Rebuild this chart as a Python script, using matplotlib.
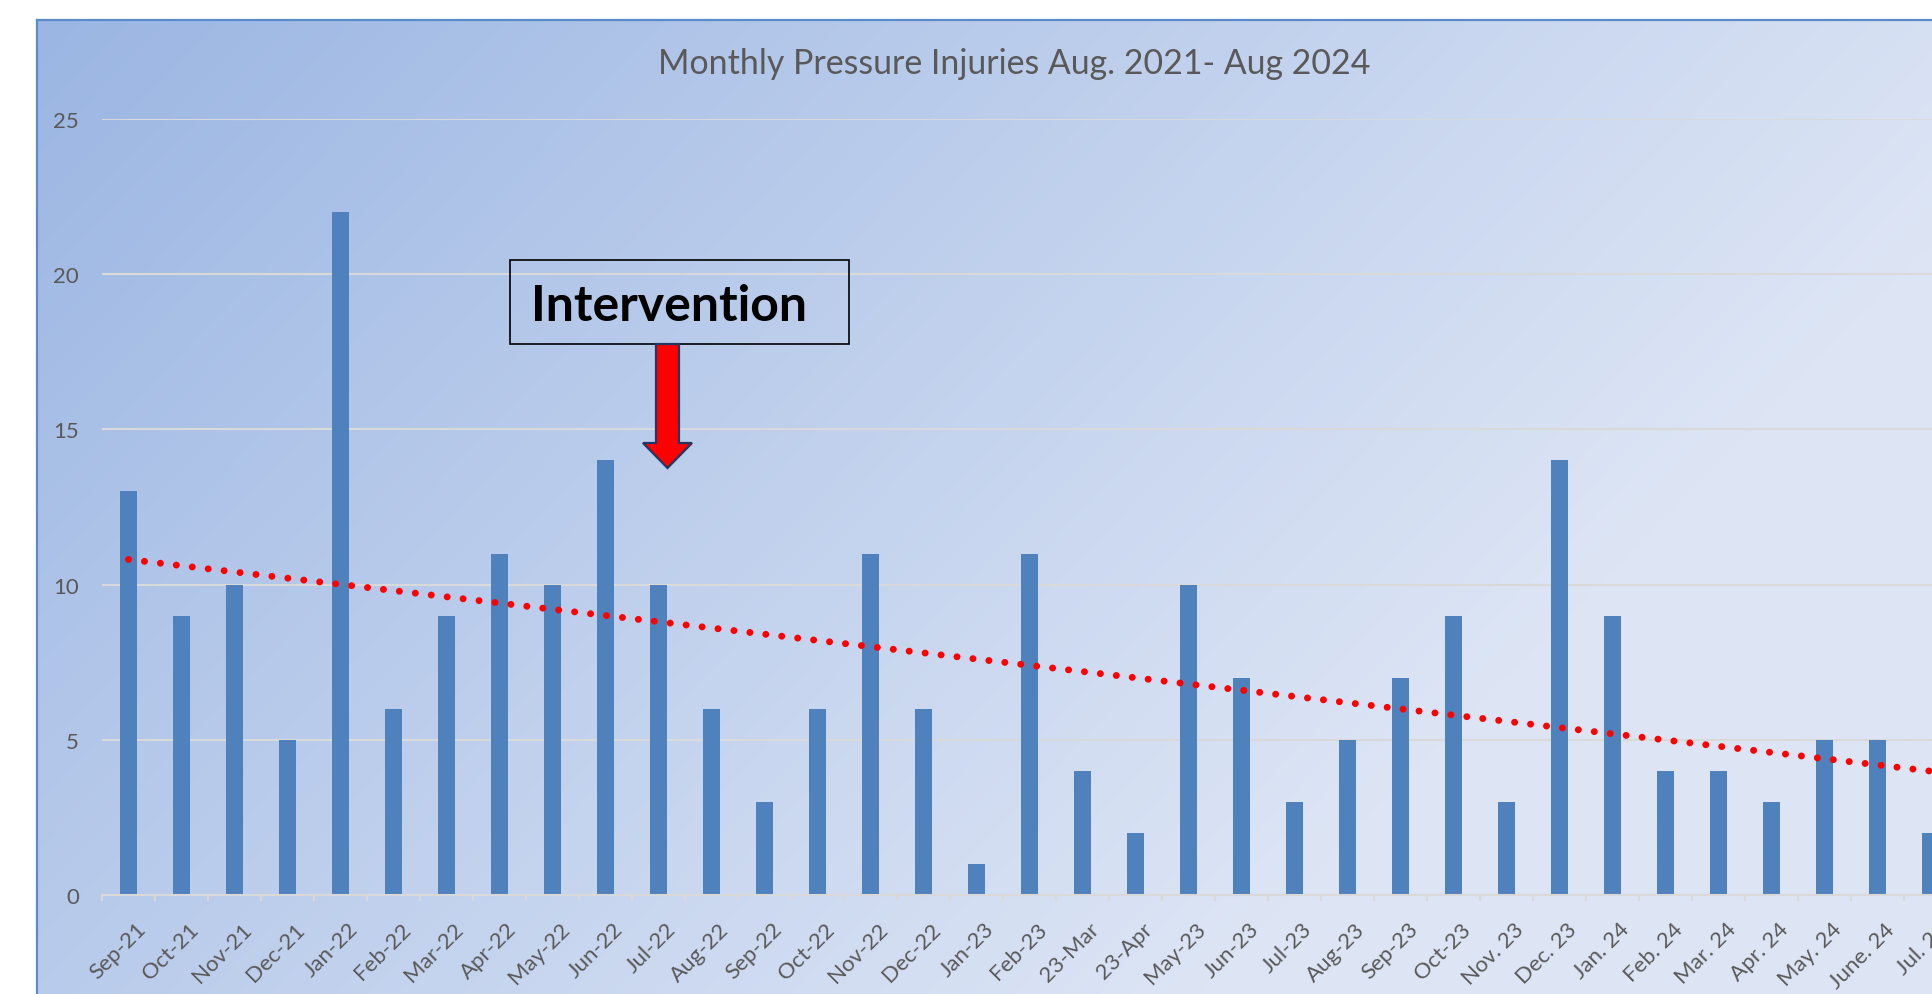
import numpy as np
import matplotlib
matplotlib.use("Agg")
import matplotlib.pyplot as plt
from matplotlib.patches import Rectangle, Polygon
import matplotlib.transforms as mtransforms

# ---------------- data ----------------
months = ["Sep-21", "Oct-21", "Nov-21", "Dec-21", "Jan-22", "Feb-22", "Mar-22",
          "Apr-22", "May-22", "Jun-22", "Jul-22", "Aug-22", "Sep-22", "Oct-22",
          "Nov-22", "Dec-22", "Jan-23", "Feb-23", "23-Mar", "23-Apr", "May-23",
          "Jun-23", "Jul-23", "Aug-23", "Sep-23", "Oct-23", "Nov. 23", "Dec. 23",
          "Jan. 24", "Feb. 24", "Mar. 24", "Apr. 24", "May. 24", "June. 24", "Jul. 24"]
injuries = [13, 9, 10, 5, 22, 6, 9, 11, 10, 14, 10, 6, 3, 6, 11, 6, 1, 11, 4, 2,
            10, 7, 3, 5, 7, 9, 3, 14, 9, 4, 4, 3, 5, 5, 2]
y_ticks = [0, 5, 10, 15, 20, 25]
title = "Monthly Pressure Injuries Aug. 2021- Aug 2024"
annotation = "Intervention"

# ---------------- style ----------------
plt.rcParams["font.family"] = ["Lato", "DejaVu Sans"]
W, H = 1933, 995
fig = plt.figure(figsize=(W / 100, H / 100), dpi=100)
fig.patch.set_facecolor("white")

TEXT = "#595959"
GRID = "#D9D9D9"
BAR = "#4F81BD"

# background (chart area gradient)
bg = fig.add_axes([0, 0, 1, 1], zorder=0)
bg.set_xlim(0, W)
bg.set_ylim(H, 0)
bg.axis("off")
x0c, y0c = 37.5, 20.5
gx = np.linspace(0, 1, 400)
gy = np.linspace(0, 1, 200)
GX, GY = np.meshgrid(gx, gy)
t = np.clip(GX * 0.9 + GY * 0.45, 0, 1)
c0 = np.array([155, 182, 227]) / 255
c1 = np.array([221, 229, 245]) / 255
img = c0[None, None, :] * (1 - t[..., None]) + c1[None, None, :] * t[..., None]
bg.imshow(img, extent=(x0c, W, H, y0c), aspect="auto", interpolation="bilinear")
bg.plot([x0c, x0c], [y0c, H], color="#5B8BC9", lw=1.6)
bg.plot([x0c, W], [y0c, y0c], color="#5B8BC9", lw=1.6)

# main axes
n = len(months)
left_px, right_px = 102, 102 + 35 * 53
top_px, bottom_px = 120, 896
ax = fig.add_axes([left_px / W, (H - bottom_px) / H,
                   (right_px - left_px) / W, (bottom_px - top_px) / H], zorder=1)
ax.patch.set_alpha(0)
pos = np.arange(n)
ax.bar(pos, injuries, width=0.31, color=BAR, zorder=2)

# linear trendline
xs = np.arange(1, n + 1)
coef = np.polyfit(xs, injuries, 1)
trend = np.polyval(coef, xs)
ax.plot(pos, trend, color="#FF0000", lw=5, linestyle=(0, (0.01, 2.3)),
        dash_capstyle="round", zorder=3)

ax.set_xlim(-0.5, n - 0.5)
ax.set_ylim(0, 25)
ax.set_yticks(y_ticks)
ax.yaxis.grid(True, color=GRID, lw=1.5)
ax.set_axisbelow(True)
for s in ["top", "right", "left"]:
    ax.spines[s].set_visible(False)
ax.spines["bottom"].set_color(GRID)
ax.spines["bottom"].set_linewidth(1.5)
ax.tick_params(axis="y", length=0, pad=16.5, labelsize=16, labelcolor=TEXT)

ax.set_xticks(pos)
ax.set_xticklabels(months)
ax.set_xticks(np.arange(-0.5, n, 1), minor=True)
ax.tick_params(axis="x", which="major", length=0, pad=17, labelsize=16, labelcolor=TEXT)
ax.tick_params(axis="x", which="minor", length=4, width=1.5, color=GRID)
off = mtransforms.ScaledTranslation(7 / 100, 0, fig.dpi_scale_trans)
for lab in ax.get_xticklabels():
    lab.set_rotation(45)
    lab.set_ha("right")
    lab.set_va("top")
    lab.set_rotation_mode("anchor")
    lab.set_transform(lab.get_transform() + off)

# title
fig.text(1014 / W, 1 - 64 / H, title, ha="center", va="center",
         fontsize=24.4, color=TEXT)

# overlay annotation
ov = fig.add_axes([0, 0, 1, 1], zorder=5)
ov.set_xlim(0, W)
ov.set_ylim(H, 0)
ov.axis("off")
ov.patch.set_alpha(0)
ov.add_patch(Rectangle((510.5, 261), 339, 84, fill=False, edgecolor="black", lw=1.2))
ov.text(531.5, 321, annotation, ha="left", va="baseline", fontsize=36,
        fontweight="bold", color="black")
ov.add_patch(Polygon([(656, 345), (679, 345), (679, 444), (692, 444),
                      (667.5, 469), (643, 444), (656, 444)], closed=True,
                     facecolor="#FF0000", edgecolor="#1F3864", lw=1.6))

fig.savefig("out.png", dpi=100)
